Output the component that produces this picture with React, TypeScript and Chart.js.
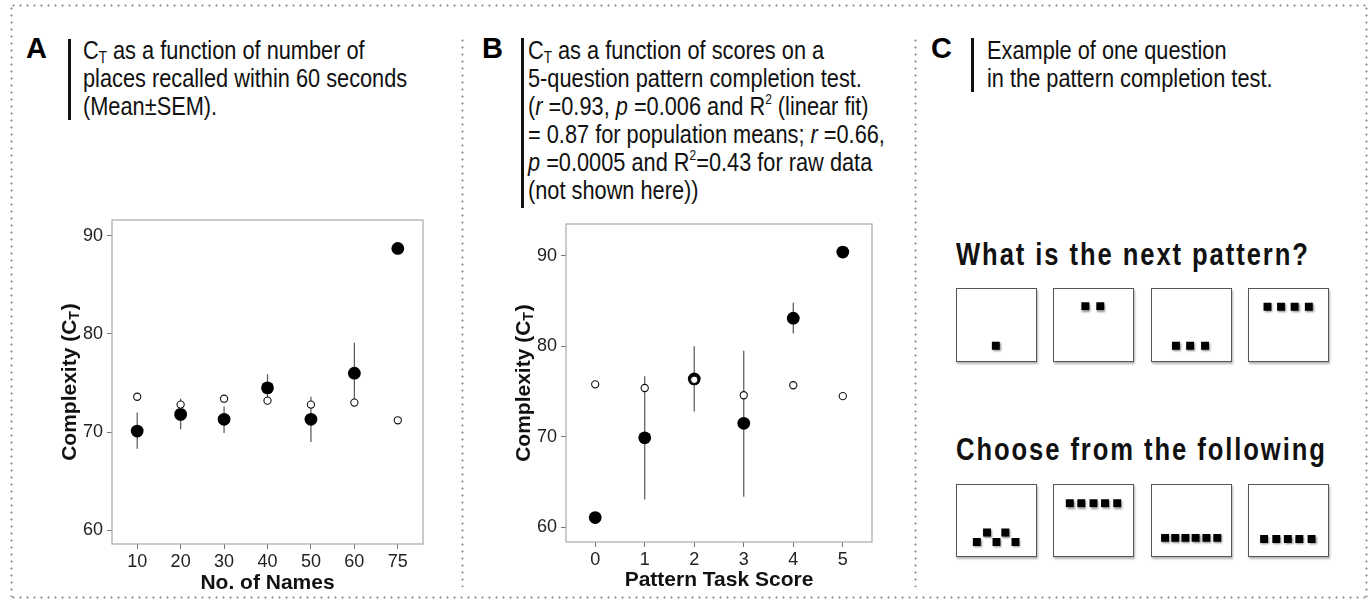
import React, { useEffect, useRef } from "react";
import { Chart, registerables } from "chart.js";

Chart.register(...registerables);
Chart.defaults.font.family = '"Liberation Sans", Arial, Helvetica, sans-serif';

// ---------- Panel A data ----------
const namesCategories = ["10", "20", "30", "40", "50", "60", "75"];
const namesMean = [70.1, 71.8, 71.3, 74.5, 71.3, 76.0, 88.7];
const namesSemLow = [68.3, 70.3, 69.9, 73.1, 69.0, 72.9, null];
const namesSemHigh = [72.0, 73.4, 72.6, 75.9, 73.6, 79.1, null];
const namesOpen = [73.6, 72.8, 73.4, 73.2, 72.8, 73.0, 71.2];
const namesYTicks = [60, 70, 80, 90];

// ---------- Panel B data ----------
const scoreCategories = ["0", "1", "2", "3", "4", "5"];
const scoreMean = [61.1, 69.9, 76.4, 71.5, 83.1, 90.4];
const scoreSemLow = [null, 63.1, 72.8, 63.4, 81.4, null];
const scoreSemHigh = [null, 76.7, 80.0, 79.5, 84.8, null];
const scoreOpen = [75.8, 75.4, 76.3, 74.6, 75.7, 74.5];
const scoreYTicks = [60, 70, 80, 90];

// ---------- Panel C data (square positions in box units 0-100) ----------
const questionBox1 = [[49, 16]];
const questionBox2 = [[38, 81], [60, 81]];
const questionBox3 = [[27, 16], [48, 16], [70, 16]];
const questionBox4 = [[19, 80], [39, 80], [59, 80], [80, 80]];
const answerBox1 = [[21, 14], [36, 30], [50, 14], [63, 30], [78, 14]];
const answerBox2 = [[15, 79], [32, 79], [50, 79], [67, 79], [85, 79]];
const answerBox3 = [[11, 21], [26, 21], [41, 21], [56, 21], [72, 21], [88, 21]];
const answerBox4 = [[14, 19], [32, 19], [49, 19], [66, 19], [84, 19]];
const questionBoxes = [questionBox1, questionBox2, questionBox3, questionBox4];
const answerBoxes = [answerBox1, answerBox2, answerBox3, answerBox4];

const SANS = '"Liberation Sans", Arial, Helvetica, sans-serif';

type PanelProps = {
  left: number;
  top: number;
  width: number;
  height: number;
  padTop: number;
  padRight: number;
  yAxisWidth: number;
  xAxisHeight: number;
  categories: string[];
  mean: number[];
  low: (number | null)[];
  high: (number | null)[];
  open: number[];
  yTicks: number[];
  yMin: number;
  yMax: number;
  xPad: number;
  xTitle: string;
  yTitleX: number;
  xTitleOffset: number;
};

function ScatterPanel(p: PanelProps) {
  const ref = useRef<HTMLCanvasElement>(null);
  useEffect(() => {
    const framePlugin = {
      id: "frame",
      beforeDatasetsDraw(chart: any) {
        const { ctx, chartArea: a } = chart;
        ctx.save();
        ctx.strokeStyle = "#a8a8a8";
        ctx.lineWidth = 1.2;
        ctx.strokeRect(a.left, a.top, a.right - a.left, a.bottom - a.top);
        ctx.restore();
      },
    };
    const errorPlugin = {
      id: "errorBars",
      beforeDatasetsDraw(chart: any) {
        const { ctx } = chart;
        const xs = chart.scales.x;
        const ys = chart.scales.y;
        ctx.save();
        ctx.strokeStyle = "#555";
        ctx.lineWidth = 1.2;
        p.low.forEach((lo, i) => {
          const hi = p.high[i];
          if (lo == null || hi == null) return;
          const px = xs.getPixelForValue(i);
          ctx.beginPath();
          ctx.moveTo(px, ys.getPixelForValue(lo));
          ctx.lineTo(px, ys.getPixelForValue(hi));
          ctx.stroke();
        });
        ctx.restore();
      },
    };
    const titlePlugin = {
      id: "titles",
      afterDraw(chart: any) {
        const { ctx, chartArea: a } = chart;
        ctx.save();
        ctx.fillStyle = "#111";
        ctx.font = `bold 21px ${SANS}`;
        ctx.textAlign = "center";
        ctx.textBaseline = "alphabetic";
        ctx.fillText(p.xTitle, (a.left + a.right) / 2, a.bottom + p.xTitleOffset + 7.5);
        const main = "Complexity (C";
        const sub = "T";
        const end = ")";
        const cy = (a.top + a.bottom) / 2;
        const cx = p.yTitleX - p.left;
        ctx.translate(cx, cy);
        ctx.rotate(-Math.PI / 2);
        ctx.textAlign = "left";
        ctx.font = `bold 21px ${SANS}`;
        const wMain = ctx.measureText(main).width;
        const wEnd = ctx.measureText(end).width;
        ctx.font = `bold 14px ${SANS}`;
        const wSub = ctx.measureText(sub).width;
        const total = wMain + wSub + wEnd + 1;
        let x0 = -total / 2;
        const base = 7.5;
        ctx.font = `bold 21px ${SANS}`;
        ctx.fillText(main, x0, base);
        x0 += wMain;
        ctx.font = `bold 14px ${SANS}`;
        ctx.fillText(sub, x0, base + 3);
        x0 += wSub + 1;
        ctx.font = `bold 21px ${SANS}`;
        ctx.fillText(end, x0, base);
        ctx.restore();
      },
    };
    const chart = new Chart(ref.current as HTMLCanvasElement, {
      type: "scatter",
      data: {
        datasets: [
          {
            data: p.open.map((v, i) => ({ x: i, y: v })),
            pointRadius: 3.6,
            pointBackgroundColor: "#fff",
            pointBorderColor: "#111",
            pointBorderWidth: 1.1,
          },
          {
            data: p.mean.map((v, i) => ({ x: i, y: v })),
            pointRadius: 6.4,
            pointBackgroundColor: "#000",
            pointBorderColor: "#000",
            pointBorderWidth: 0,
          },
        ],
      },
      options: {
        animation: false,
        responsive: true,
        maintainAspectRatio: false,
        events: [],
        layout: { padding: { left: 0, top: p.padTop, right: p.padRight, bottom: 0 } },
        plugins: { legend: { display: false }, tooltip: { enabled: false } },
        scales: {
          x: {
            type: "linear",
            min: -p.xPad,
            max: p.categories.length - 1 + p.xPad,
            afterBuildTicks: (s: any) => {
              s.ticks = p.categories.map((_, i) => ({ value: i }));
            },
            afterFit: (s: any) => {
              s.height = p.xAxisHeight;
            },
            ticks: {
              callback: (_v: any, i: number) => p.categories[i],
              font: { size: 18 },
              color: "#222",
              padding: 2,
              autoSkip: false,
              maxRotation: 0,
            },
            grid: { drawOnChartArea: false, tickLength: 5, color: "#777" },
            border: { display: false },
          },
          y: {
            type: "linear",
            min: p.yMin,
            max: p.yMax,
            afterBuildTicks: (s: any) => {
              s.ticks = p.yTicks.map((v) => ({ value: v }));
            },
            afterFit: (s: any) => {
              s.width = p.yAxisWidth;
            },
            ticks: { font: { size: 18 }, color: "#222", padding: 4 },
            grid: { drawOnChartArea: false, tickLength: 5, color: "#777" },
            border: { display: false },
          },
        },
      } as any,
      plugins: [framePlugin, errorPlugin, titlePlugin],
    });
    return () => chart.destroy();
  }, []);
  return (
    <div style={{ position: "absolute", left: p.left, top: p.top, width: p.width, height: p.height }}>
      <canvas ref={ref} />
    </div>
  );
}

function PatternBox({ points, left, top, width, height }: { points: number[][]; left: number; top: number; width: number; height: number }) {
  const ref = useRef<HTMLCanvasElement>(null);
  useEffect(() => {
    const shadowPlugin = {
      id: "shadow",
      beforeDatasetDraw(chart: any) {
        const ctx = chart.ctx;
        ctx.save();
        ctx.shadowColor = "rgba(0,0,0,0.45)";
        ctx.shadowBlur = 2;
        ctx.shadowOffsetX = 1;
        ctx.shadowOffsetY = 1.5;
      },
      afterDatasetDraw(chart: any) {
        chart.ctx.restore();
      },
    };
    const chart = new Chart(ref.current as HTMLCanvasElement, {
      type: "scatter",
      data: {
        datasets: [
          {
            data: points.map(([x, y]) => ({ x, y })),
            pointStyle: "rect",
            pointRadius: 5.6,
            pointBackgroundColor: "#000",
            pointBorderColor: "#000",
            pointBorderWidth: 0,
          },
        ],
      },
      options: {
        animation: false,
        responsive: true,
        maintainAspectRatio: false,
        events: [],
        layout: { padding: 0 },
        plugins: { legend: { display: false }, tooltip: { enabled: false } },
        scales: {
          x: { type: "linear", min: 0, max: 100, display: false },
          y: { type: "linear", min: 0, max: 100, display: false },
        },
      } as any,
      plugins: [shadowPlugin],
    });
    return () => chart.destroy();
  }, []);
  return (
    <div
      style={{
        position: "absolute",
        left,
        top,
        width,
        height,
        boxSizing: "border-box",
        border: "1.3px solid #555",
        boxShadow: "1px 1.5px 2px rgba(0,0,0,0.3)",
        background: "#fff",
      }}
    >
      <canvas ref={ref} />
    </div>
  );
}

const dotColor = "#9a9a9a";
function HDots({ left, top, width }: { left: number; top: number; width: number }) {
  return (
    <div
      style={{
        position: "absolute",
        left,
        top: top - 1,
        width,
        height: 3,
        backgroundImage: `radial-gradient(circle, ${dotColor} 0.9px, rgba(255,255,255,0) 1.3px)`,
        backgroundSize: "7px 3px",
        backgroundRepeat: "repeat-x",
      }}
    />
  );
}
function VDots({ left, top, height }: { left: number; top: number; height: number }) {
  return (
    <div
      style={{
        position: "absolute",
        left: left - 1,
        top,
        width: 3,
        height,
        backgroundImage: `radial-gradient(circle, ${dotColor} 0.9px, rgba(255,255,255,0) 1.3px)`,
        backgroundSize: "3px 7px",
        backgroundRepeat: "repeat-y",
      }}
    />
  );
}

function Header({ letter, letterLeft, barLeft, barTop, barHeight, textLeft, children }: any) {
  return (
    <>
      <div
        style={{
          position: "absolute",
          left: letterLeft,
          top: 32,
          fontFamily: SANS,
          fontWeight: "bold",
          fontSize: 29,
          lineHeight: "32px",
          color: "#000",
        }}
      >
        {letter}
      </div>
      <div style={{ position: "absolute", left: barLeft, top: barTop, width: 3, height: barHeight, background: "#111" }} />
      <div
        style={{
          position: "absolute",
          left: textLeft,
          top: 36,
          fontFamily: SANS,
          fontSize: 26,
          lineHeight: "28px",
          color: "#111",
          whiteSpace: "nowrap",
          transform: "scaleX(0.837)",
          transformOrigin: "left top",
        }}
      >
        {children}
      </div>
    </>
  );
}

const subStyle: React.CSSProperties = { fontSize: "0.62em", verticalAlign: "-0.22em", lineHeight: 0 };
const supStyle: React.CSSProperties = { fontSize: "0.55em", verticalAlign: "0.75em", lineHeight: 0 };

const patternTitleStyle: React.CSSProperties = {
  position: "absolute",
  left: 956,
  fontFamily: SANS,
  fontWeight: "bold",
  fontSize: 32,
  lineHeight: "32px",
  letterSpacing: "2.4px",
  color: "#111",
  whiteSpace: "nowrap",
  transform: "scaleX(0.8)",
  transformOrigin: "left top",
};

export default function App() {
  const boxXs = [956, 1053, 1151, 1248];
  return (
    <div style={{ position: "absolute", left: 0, top: 0, width: 1369, height: 600, background: "#fff", overflow: "hidden" }}>
      {/* frame */}
      <HDots left={10} top={5} width={1358} />
      <HDots left={10} top={597} width={1358} />
      <VDots left={11} top={5} height={592} />
      <VDots left={1366} top={5} height={592} />
      <VDots left={462} top={37} height={550} />
      <VDots left={915} top={37} height={550} />

      {/* Panel A header */}
      <Header letter="A" letterLeft={26} barLeft={68} barTop={39} barHeight={81} textLeft={83}>
        C<span style={subStyle}>T</span> as a function of number of
        <br />
        places recalled within 60 seconds
        <br />
        (Mean±SEM).
      </Header>

      {/* Panel B header */}
      <Header letter="B" letterLeft={482} barLeft={521} barTop={38} barHeight={170} textLeft={528}>
        C<span style={subStyle}>T</span> as a function of scores on a
        <br />
        5-question pattern completion test.
        <br />
        (<i>r</i> =0.93, <i>p</i> =0.006 and R<span style={supStyle}>2</span> (linear fit)
        <br />= 0.87 for population means; <i>r</i> =0.66,
        <br />
        <i>p</i> =0.0005 and R<span style={supStyle}>2</span>=0.43 for raw data
        <br />
        (not shown here))
      </Header>

      {/* Panel C header */}
      <Header letter="C" letterLeft={931} barLeft={971} barTop={38} barHeight={54} textLeft={987}>
        Example of one question
        <br />
        in the pattern completion test.
      </Header>

      <ScatterPanel
        left={14}
        top={200}
        width={436}
        height={398}
        padTop={20}
        padRight={27}
        yAxisWidth={98}
        xAxisHeight={54}
        categories={namesCategories}
        mean={namesMean}
        low={namesSemLow}
        high={namesSemHigh}
        open={namesOpen}
        yTicks={namesYTicks}
        yMin={58.6}
        yMax={91.6}
        xPad={0.58}
        xTitle="No. of Names"
        yTitleX={68}
        xTitleOffset={37}
      />
      <ScatterPanel
        left={468}
        top={200}
        width={440}
        height={398}
        padTop={24}
        padRight={36}
        yAxisWidth={98}
        xAxisHeight={56}
        categories={scoreCategories}
        mean={scoreMean}
        low={scoreSemLow}
        high={scoreSemHigh}
        open={scoreOpen}
        yTicks={scoreYTicks}
        yMin={58.4}
        yMax={93.5}
        xPad={0.59}
        xTitle="Pattern Task Score"
        yTitleX={522}
        xTitleOffset={36}
      />

      {/* Panel C illustration */}
      <div style={{ ...patternTitleStyle, top: 238 }}>What is the next pattern?</div>
      {questionBoxes.map((pts, i) => (
        <PatternBox key={"q" + i} points={pts} left={boxXs[i]} top={288} width={81} height={74} />
      ))}
      <div style={{ ...patternTitleStyle, top: 433 }}>Choose from the following</div>
      {answerBoxes.map((pts, i) => (
        <PatternBox key={"a" + i} points={pts} left={boxXs[i]} top={484} width={81} height={73} />
      ))}
    </div>
  );
}
